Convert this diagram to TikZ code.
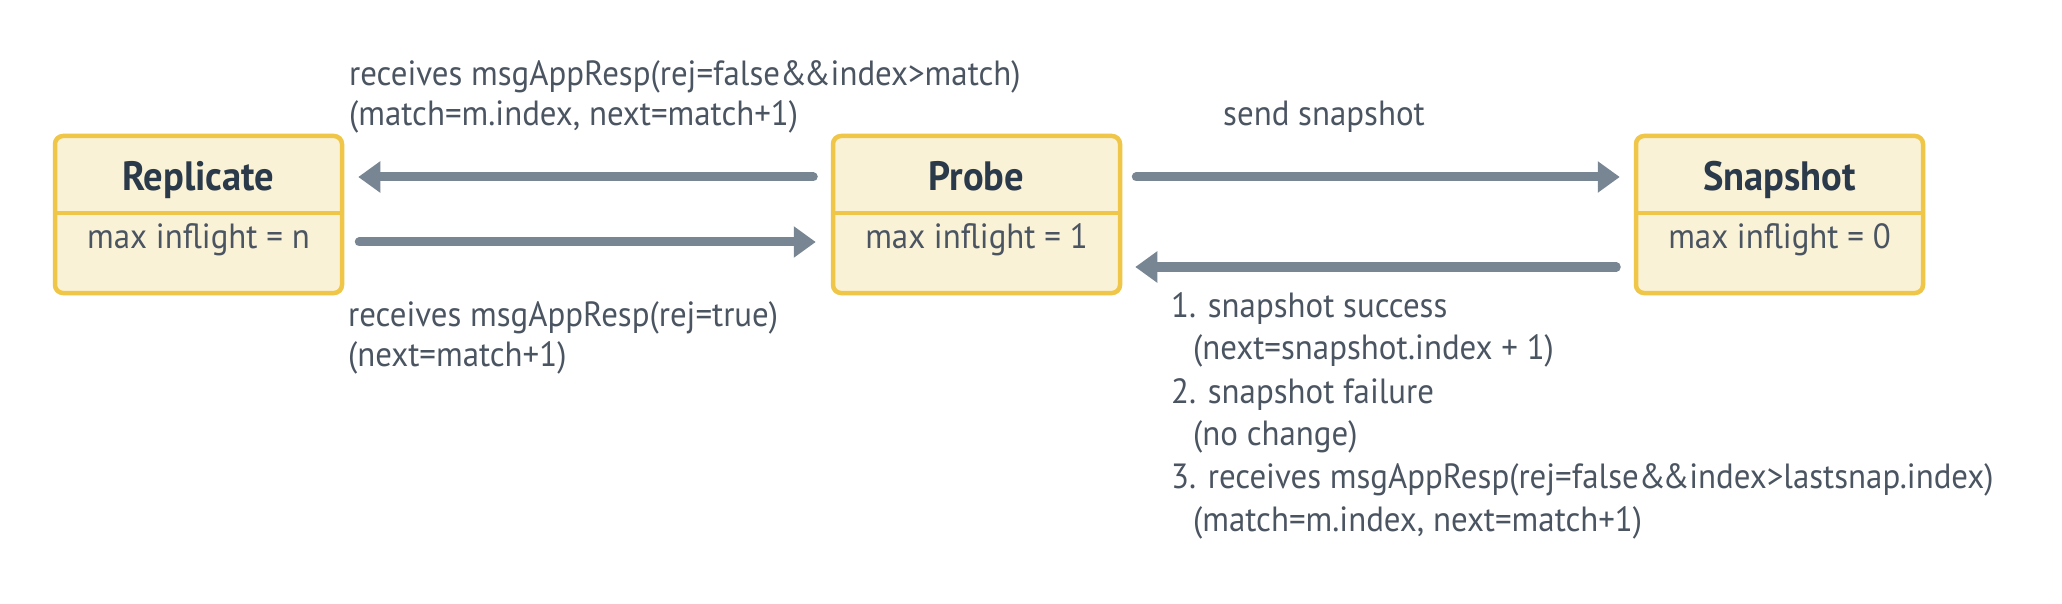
\documentclass[tikz,border=0pt]{standalone}
\usepackage{fontspec}
\setmainfont{PT Sans}[FakeStretch=0.94]
\usetikzlibrary{arrows.meta}
\definecolor{boxfill}{HTML}{FAF2D6}
\definecolor{boxline}{HTML}{EFC647}
\definecolor{arrowc}{HTML}{788593}
\definecolor{titlec}{HTML}{2B3A4A}
\definecolor{textc}{HTML}{4B5562}
\newcommand{\ampamp}{\&\kern-3pt\&}
\begin{document}
\begin{tikzpicture}[x=1pt,y=-1pt,
  statebox/.style={draw=boxline, fill=boxfill, line width=4.5pt, rounded corners=8pt,
    minimum width=287pt, minimum height=157pt, inner sep=0pt},
  divider/.style={draw=boxline, line width=4pt},
  titletext/.style={font=\fontsize{41}{48}\selectfont\bfseries, text=titlec, inner sep=0pt,
    text height=29.5pt, text depth=8.2pt},
  infotext/.style={font=\fontsize{35}{42}\selectfont, text=textc, inner sep=0pt,
    text height=25pt, text depth=7pt},
  lbl/.style={font=\fontsize{35}{42}\selectfont, text=textc, inner sep=0pt, anchor=west,
    text height=25pt, text depth=7pt},
  arr/.style={draw=arrowc, line width=9pt, line cap=round, -{Triangle[length=22pt,width=30pt]}},
]
\useasboundingbox[fill=white] (0,0) rectangle (2062,604);

% boxes
\node[statebox] (rep) at (198.5,214.5) {};
\node[statebox] (probe) at (976.5,214.5) {};
\node[statebox] (snap) at (1779.5,214.5) {};
\foreach \b in {rep,probe,snap}{
  \draw[divider] ([yshift=-79pt]\b.north west) -- ([yshift=-79pt]\b.north east);
}
\node[titletext] (reptitle) at (198.5,180) {Replicate};
\node[titletext] (probetitle) at (976.5,180) {Probe};
\node[titletext] (snaptitle) at (1779.5,180) {Snapshot};
\node[infotext] (repinfo) at (198.5,239) {max inflight = n};
\node[infotext] (probeinfo) at (976.5,239) {max inflight = 1};
\node[infotext] (snapinfo) at (1779.5,239) {max inflight = 0};

% arrows
\draw[arr] ([xshift=-17.5pt,yshift=37.5pt]probe.west) -- ([xshift=14pt,yshift=37.5pt]rep.east);
\draw[arr] ([xshift=15pt,yshift=-27.5pt]rep.east) -- ([xshift=-15pt,yshift=-27.5pt]probe.west);
\draw[arr] ([xshift=14pt,yshift=37.5pt]probe.east) -- ([xshift=-14pt,yshift=37.5pt]snap.west);
\draw[arr] ([xshift=-17.5pt,yshift=-52.5pt]snap.west) -- ([xshift=13pt,yshift=-52.5pt]probe.east);

% labels
\node[lbl] (ta) at (349,77) {receives msgAppResp(rej=false\ampamp index>match)};
\node[lbl] (tb) at (349,117) {(match=m.index, next=match+1)};
\node[lbl] (send) at (1223,117) {send snapshot};
\node[lbl] (ba) at (348,317) {receives msgAppResp(rej=true)};
\node[lbl] (bb) at (348,357) {(next=match+1)};
\node[lbl] (r1) at (1171,308) {1. snapshot success};
\node[lbl] (r1b) at (1193,350) {(next=snapshot.index + 1)};
\node[lbl] (r2) at (1171,394) {2. snapshot failure};
\node[lbl] (r2b) at (1193,436) {(no change)};
\node[lbl] (r3) at (1171,479) {3. receives msgAppResp(rej=false\ampamp index>lastsnap.index)};
\node[lbl] (r3b) at (1193,522) {(match=m.index, next=match+1)};
\end{tikzpicture}
\end{document}
